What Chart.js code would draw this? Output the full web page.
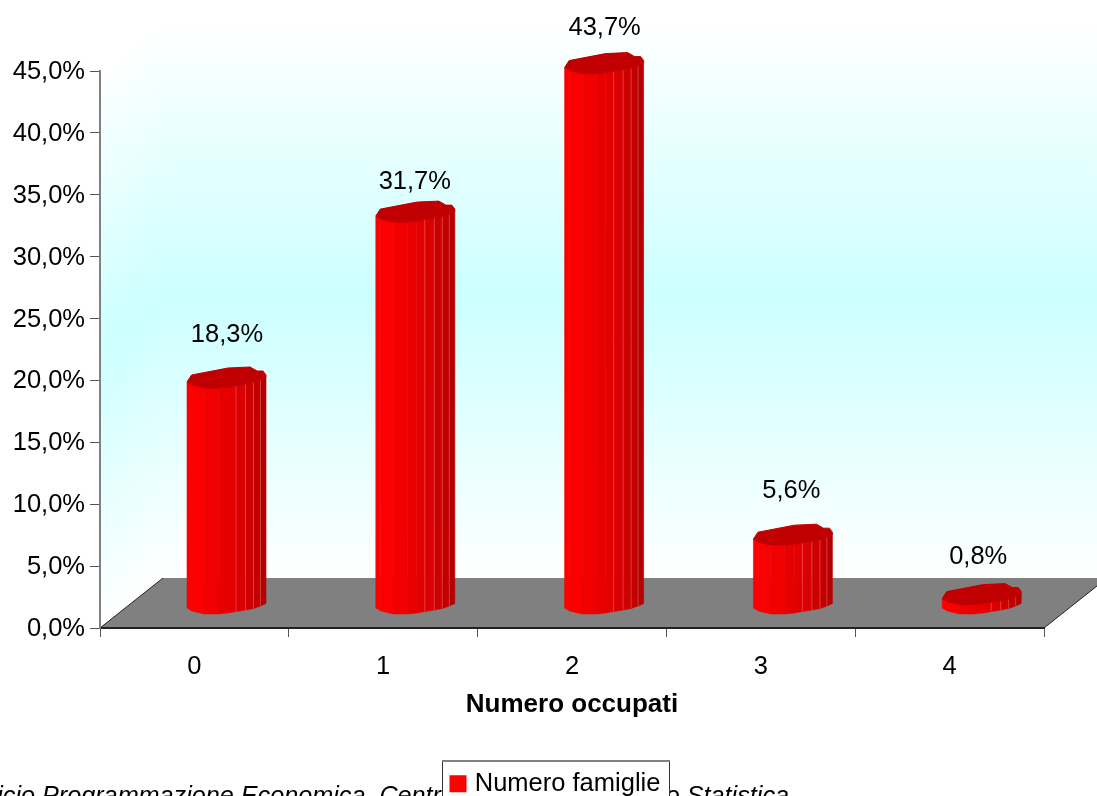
<!DOCTYPE html>
<html>
<head>
<meta charset="utf-8">
<title>Numero occupati</title>
<script src="https://cdn.jsdelivr.net/npm/chart.js@4/dist/chart.umd.min.js"></script>
<style>
body { margin: 0; background: #fff; }
canvas { display: block; }
</style>
</head>
<body>
<canvas id="grafico" width="1097" height="796"></canvas>
<script>
const categorie = ["0", "1", "2", "3", "4"];
const famiglie = [18.3, 31.7, 43.7, 5.6, 0.8];
const etichettaSerie = "Numero famiglie";
const titoloAsse = "Numero occupati";
const fonteSinistra = "Ufficio Programmazione Economica, Centro";
const fonteDestra = "o Statistica";

// depth of the fake 3D box, in pixels
const DX = 63, DY = 50;
const FONT = "'Liberation Sans', Arial, sans-serif";

// cylinder outline around its centre, front edge left to right
const bordoFronte = [[-39.5, 5.5], [-34.5, 8.5], [-22, 11.5], [-8, 11.5], [1.5, 10.5], [9.5, 9], [19, 7.5], [27, 6], [34, 3.5], [39.5, 1]];
const bordoRetro = [[39.5, -1.5], [36.5, -5.5], [30.5, -5.5], [23.5, -9.5], [1.5, -8.5], [-35, -1.5]];
const facce = ["#ff0000", "#fb0000", "#f00000", "#e80000", "#e40000", "#d80000", "#cc0000", "#c20000", "#b40000"];
// faces that get a thin lighter seam on their left side
const giunture = [5, 6, 7, 8];
// label shift from the top of each cylinder
const spostaEtichette = [[0.5, -42], [-0.5, -29], [0.5, -34], [-1.5, -43], [-3.5, -36]];

function pct(v) {
    return v.toFixed(1).replace(".", ",") + "%";
}

function sfondo(ctx, area) {
    const { left, right, top, bottom } = area;
    const gradiente = (y0, y1) => {
        const g = ctx.createLinearGradient(0, y0, 0, y1);
        g.addColorStop(0, "#ffffff");
        g.addColorStop(0.5, "#ccffff");
        g.addColorStop(1, "#ffffff");
        return g;
    };
    // side wall, the gradient is sheared along with it
    ctx.save();
    ctx.beginPath();
    ctx.moveTo(left, top);
    ctx.lineTo(left + DX, top - DY);
    ctx.lineTo(left + DX, bottom - DY);
    ctx.lineTo(left, bottom);
    ctx.closePath();
    ctx.clip();
    ctx.transform(1, -DY / DX, 0, 1, left, 0);
    ctx.fillStyle = gradiente(top, bottom);
    ctx.fillRect(0, top - 10, DX, bottom - top + 20);
    ctx.restore();
    // back wall
    ctx.fillStyle = gradiente(top - DY, bottom - DY);
    ctx.fillRect(left + DX, top - DY, right - left, bottom - top);
    // floor
    ctx.beginPath();
    ctx.moveTo(left, bottom);
    ctx.lineTo(left + DX, bottom - DY);
    ctx.lineTo(right + DX, bottom - DY);
    ctx.lineTo(right, bottom);
    ctx.closePath();
    ctx.fillStyle = "#808080";
    ctx.fill();
    ctx.strokeStyle = "#222222";
    ctx.lineWidth = 1;
    ctx.beginPath();
    ctx.moveTo(left, bottom);
    ctx.lineTo(left + DX, bottom - DY);
    ctx.moveTo(right, bottom);
    ctx.lineTo(right + DX, bottom - DY);
    ctx.stroke();
}

function cilindro(ctx, cx, yTop, yBase) {
    // body, one polygon per face
    for (let i = 0; i < bordoFronte.length - 1; i++) {
        const [x1, o1] = bordoFronte[i];
        const [x2, o2] = bordoFronte[i + 1];
        ctx.beginPath();
        ctx.moveTo(cx + x1, yTop + o1);
        ctx.lineTo(cx + x2, yTop + o2);
        ctx.lineTo(cx + x2, yBase + o2);
        ctx.lineTo(cx + x1, yBase + o1);
        ctx.closePath();
        ctx.fillStyle = facce[i];
        ctx.strokeStyle = facce[i];
        ctx.lineWidth = 0.6;
        ctx.fill();
        ctx.stroke();
    }
    ctx.strokeStyle = "rgba(255,140,140,0.4)";
    ctx.lineWidth = 1;
    giunture.forEach(i => {
        const [x, o] = bordoFronte[i];
        ctx.beginPath();
        ctx.moveTo(cx + x, yTop + o);
        ctx.lineTo(cx + x, yBase + o);
        ctx.stroke();
    });
    // top cap, the round join takes the edge off its corners
    ctx.beginPath();
    bordoFronte.concat(bordoRetro).forEach(([x, o], i) => {
        if (i === 0) ctx.moveTo(cx + x, yTop + o);
        else ctx.lineTo(cx + x, yTop + o);
    });
    ctx.closePath();
    ctx.fillStyle = "#c00000";
    ctx.strokeStyle = "#c00000";
    ctx.lineWidth = 1;
    ctx.lineJoin = "round";
    ctx.fill();
    ctx.stroke();
}

const scena = {
    id: "scena",
    beforeDraw(chart) {
        const ctx = chart.ctx;
        sfondo(ctx, chart.chartArea);

        // source line, partly hidden behind the legend
        ctx.save();
        ctx.fillStyle = "#000";
        ctx.font = "italic 25.2px " + FONT;
        ctx.textBaseline = "alphabetic";
        ctx.textAlign = "right";
        ctx.fillText(fonteSinistra, 455, 804);
        ctx.fillText(fonteDestra, 789, 804);

        // legend box sits over the line and runs off the bottom edge
        const boxL = 442, boxR = 669, boxT = 760;
        ctx.fillStyle = "#fff";
        ctx.fillRect(boxL, boxT, boxR - boxL, 40);
        ctx.strokeStyle = "#333";
        ctx.lineWidth = 1;
        ctx.beginPath();
        ctx.moveTo(boxL + 0.5, 797);
        ctx.lineTo(boxL + 0.5, boxT + 1);
        ctx.moveTo(boxR + 0.5, boxT + 1);
        ctx.lineTo(boxR + 0.5, 797);
        ctx.stroke();
        ctx.strokeStyle = "#808080";
        ctx.lineWidth = 2;
        ctx.beginPath();
        ctx.moveTo(boxL, boxT + 1);
        ctx.lineTo(boxR + 1, boxT + 1);
        ctx.stroke();
        ctx.restore();

        const l = chart.legend;
        l.left = boxL + 1; l.right = boxR; l.width = l.right - l.left;
        l.top = boxT; l.bottom = 796; l.height = l.bottom - l.top;
    },
    beforeDatasetDraw(chart, args) {
        const ctx = chart.ctx;
        ctx.save();
        chart.getDatasetMeta(args.index).data.forEach(bar => {
            cilindro(ctx, bar.x + DX / 2 + 0.6, bar.y - DY / 2, bar.base - DY / 2);
        });
        ctx.restore();
        return false;
    },
    afterDatasetsDraw(chart) {
        const ctx = chart.ctx;
        ctx.save();
        ctx.fillStyle = "#000";
        ctx.font = "25.5px " + FONT;
        ctx.textAlign = "center";
        ctx.textBaseline = "middle";
        chart.getDatasetMeta(0).data.forEach((bar, i) => {
            const [sx, sy] = spostaEtichette[i];
            ctx.fillText(pct(famiglie[i]), bar.x + DX / 2 + 0.6 + sx, bar.y - DY / 2 + sy);
        });
        ctx.restore();
    }
};

new Chart(document.getElementById("grafico"), {
    type: "bar",
    data: {
        labels: categorie,
        datasets: [{
            label: etichettaSerie,
            data: famiglie,
            backgroundColor: "#ff0000",
            // thick border widens the legend key without moving its text
            borderColor: "#ff0000",
            borderWidth: 9
        }]
    },
    options: {
        responsive: false,
        animation: false,
        layout: { padding: { top: 71, right: 53, left: 0, bottom: 0 } },
        plugins: {
            tooltip: { enabled: false },
            legend: {
                position: "chartArea",
                align: "start",
                labels: {
                    boxWidth: 8,
                    boxHeight: 8,
                    padding: 11,
                    color: "#000",
                    font: { family: FONT, size: 25.5 }
                }
            }
        },
        scales: {
            x: {
                afterFit: s => { s.height = 168; },
                grid: { drawOnChartArea: false, color: "#555", tickLength: 9 },
                border: { color: "#222", width: 2 },
                ticks: { color: "#000", padding: 15, font: { family: FONT, size: 25.5 } },
                title: {
                    display: true,
                    text: titoloAsse,
                    color: "#000",
                    font: { family: FONT, size: 26, weight: "bold" },
                    padding: { top: 0, bottom: 76 }
                }
            },
            y: {
                min: 0,
                max: 45,
                afterFit: s => { s.width = 100; },
                grid: { drawOnChartArea: false, color: "#555", tickLength: 10 },
                border: { color: "#808080", width: 2 },
                ticks: {
                    stepSize: 5,
                    color: "#000",
                    padding: 5,
                    labelOffset: 1,
                    font: { family: FONT, size: 25.5 },
                    callback: v => pct(v)
                }
            }
        }
    },
    plugins: [scena]
});
</script>
</body>
</html>
